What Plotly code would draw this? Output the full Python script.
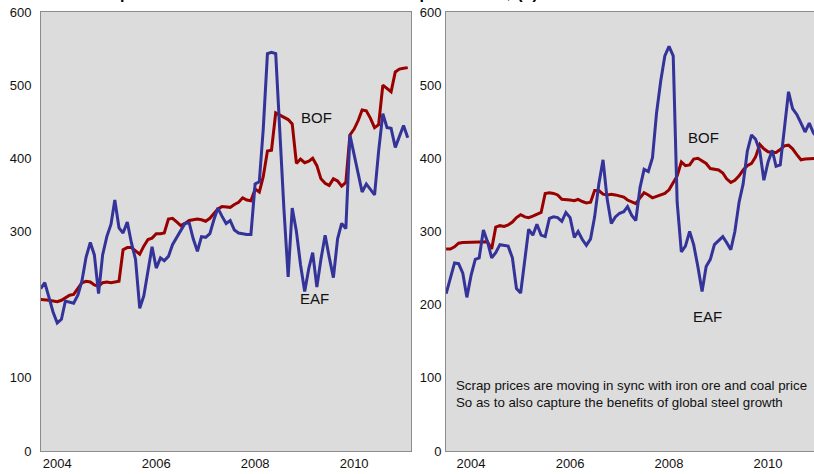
import pandas as pd
import plotly.graph_objects as go

# ---------------- data ----------------
left_dates = pd.date_range("2003-09-01", periods=90, freq="MS")
right_dates = pd.date_range("2003-07-01", periods=91, freq="MS")

left_eaf = [222, 230, 210, 190, 175, 180, 205, 203, 202, 213,
            232, 265, 285, 268, 215, 268, 293, 310, 343, 305,
            298, 313, 285, 262, 195, 212, 245, 279, 250, 264,
            260, 266, 282, 292, 300, 311, 312, 290, 273, 293,
            292, 297, 315, 332, 321, 311, 315, 302, 298, 297,
            296, 296, 365, 368, 440, 543, 545, 543, 430, 330,
            238, 332, 300, 255, 218, 250, 271, 224, 262, 295,
            265, 237, 290, 311, 304, 432, 405, 378, 354, 365,
            358, 350, 410, 461, 442, 441, 415, 430, 445, 428]

left_bof = [207, 207, 206, 205, 204, 206, 210, 213, 214, 222,
            230, 232, 231, 227, 225, 230, 231, 230, 231, 232,
            275, 278, 278, 273, 269, 280, 289, 291, 297, 297,
            298, 317, 318, 313, 308, 311, 315, 316, 317, 316,
            314, 318, 324, 331, 334, 333, 333, 337, 340, 346,
            343, 342, 358, 354, 375, 410, 411, 462, 459, 456,
            453, 447, 393, 399, 394, 396, 400, 390, 372, 366,
            363, 372, 369, 362, 367, 432, 440, 452, 466, 465,
            455, 442, 446, 500, 496, 491, 518, 522, 523, 524]

right_eaf = [215, 235, 257, 256, 243, 210, 240, 262, 264, 302,
             286, 264, 271, 282, 281, 280, 264, 222, 216, 258,
             303, 295, 310, 295, 293, 318, 320, 319, 314, 326,
             319, 292, 300, 289, 281, 290, 320, 365, 398, 345,
             311, 320, 325, 327, 334, 322, 315, 360, 385, 382,
             401, 462, 506, 540, 553, 540, 340, 272, 280, 300,
             282, 252, 218, 252, 262, 282, 288, 293, 285, 275,
             300, 340, 365, 410, 432, 426, 410, 370, 395, 411,
             389, 391, 440, 491, 468, 460, 448, 436, 448, 435, 428]

right_bof = [276, 276, 279, 284, 285, 285, 285, 286, 286, 286,
             286, 276, 306, 308, 307, 309, 313, 319, 323, 320,
             319, 321, 324, 326, 352, 353, 352, 350, 344, 344,
             343, 342, 344, 341, 339, 340, 356, 356, 351, 350,
             351, 350, 349, 347, 343, 340, 338, 346, 353, 350,
             346, 348, 350, 352, 357, 366, 376, 395, 390, 391,
             399, 400, 397, 393, 386, 385, 384, 380, 372, 367,
             370, 376, 384, 390, 393, 402, 419, 413, 409, 408,
             408, 412, 417, 418, 413, 405, 398, 399, 399, 400, 400]

x_tick_dates = ["2004-01-01", "2006-01-01", "2008-01-01", "2010-01-01"]
x_tick_labels = ["2004", "2006", "2008", "2010"]
left_y_ticks = [0, 100, 300, 400, 500, 600]
right_y_ticks = [0, 100, 200, 300, 400, 500, 600]

title_text = "Cost comparison EAF and BOF variable cost at spot and US$ (b)"
note_text = ("Scrap prices are moving in sync with iron ore and coal price<br>"
             "So as to also capture the benefits of global steel growth")

# ---------------- styling ----------------
EAF_COLOR = "#333399"
BOF_COLOR = "#990000"
FONT = "Liberation Sans, Arial, sans-serif"

fig = go.Figure()
fig.add_trace(go.Scatter(x=left_dates, y=left_bof, xaxis="x", yaxis="y", mode="lines",
                         line=dict(color=BOF_COLOR, width=3), showlegend=False, name="BOF"))
fig.add_trace(go.Scatter(x=left_dates, y=left_eaf, xaxis="x", yaxis="y", mode="lines",
                         line=dict(color=EAF_COLOR, width=3), showlegend=False, name="EAF"))
fig.add_trace(go.Scatter(x=right_dates, y=right_bof, xaxis="x2", yaxis="y2", mode="lines",
                         line=dict(color=BOF_COLOR, width=3), showlegend=False, name="BOF"))
fig.add_trace(go.Scatter(x=right_dates, y=right_eaf, xaxis="x2", yaxis="y2", mode="lines",
                         line=dict(color=EAF_COLOR, width=3), showlegend=False, name="EAF"))

axis_common = dict(showgrid=False, zeroline=False, showline=True, mirror=True,
                   linecolor="#8c8c8c", linewidth=1, ticks="",
                   tickfont=dict(family=FONT, size=13, color="#111111"))

fig.update_layout(
    width=814, height=474,
    margin=dict(l=41, r=0, t=12, b=23),
    paper_bgcolor="white",
    plot_bgcolor="#dcdcdc",
    font=dict(family=FONT, color="#111111"),
    xaxis=dict(domain=[0, 0.47865], type="date", anchor="y",
               range=["2003-09-03", "2011-02-25"],
               tickmode="array", tickvals=x_tick_dates, ticktext=x_tick_labels,
               **axis_common),
    yaxis=dict(domain=[0, 1], range=[0, 600], anchor="x",
               tickmode="array", tickvals=left_y_ticks,
               ticklabelstandoff=6, **axis_common),
    xaxis2=dict(domain=[0.52393, 1], type="date", anchor="y2",
                range=["2003-06-30", "2010-12-06"],
                tickmode="array", tickvals=x_tick_dates, ticktext=x_tick_labels,
                **axis_common),
    yaxis2=dict(domain=[0, 1], range=[0, 600], anchor="x2",
                tickmode="array", tickvals=right_y_ticks,
                ticklabelstandoff=1, **axis_common),
)

label_font = dict(family=FONT, size=15, color="#111111")
fig.add_annotation(x="2009-04-01", y=456, xref="x", yref="y", text="BOF",
                   showarrow=False, font=label_font)
fig.add_annotation(x="2009-03-15", y=208, xref="x", yref="y", text="EAF",
                   showarrow=False, font=label_font)
fig.add_annotation(x="2008-09-08", y=428, xref="x2", yref="y2", text="BOF",
                   showarrow=False, font=label_font)
fig.add_annotation(x="2008-10-12", y=184, xref="x2", yref="y2", text="EAF",
                   showarrow=False, font=label_font)

fig.add_annotation(x=0.0217, y=78, xref="x2 domain", yref="y2", text=note_text,
                   showarrow=False, xanchor="left", yanchor="middle", align="left",
                   font=dict(family=FONT, size=13.3, color="#111111"))

fig.add_annotation(x=0.005, y=1, xref="paper", yref="paper", text="<b>" + title_text + "</b>",
                   showarrow=False, xanchor="left", yanchor="bottom", yshift=8,
                   font=dict(family=FONT, size=16, color="#000000"))

fig.write_html("out.html", config={"displayModeBar": False},
               post_script="document.body.style.margin='0';document.body.style.overflow='hidden';")
